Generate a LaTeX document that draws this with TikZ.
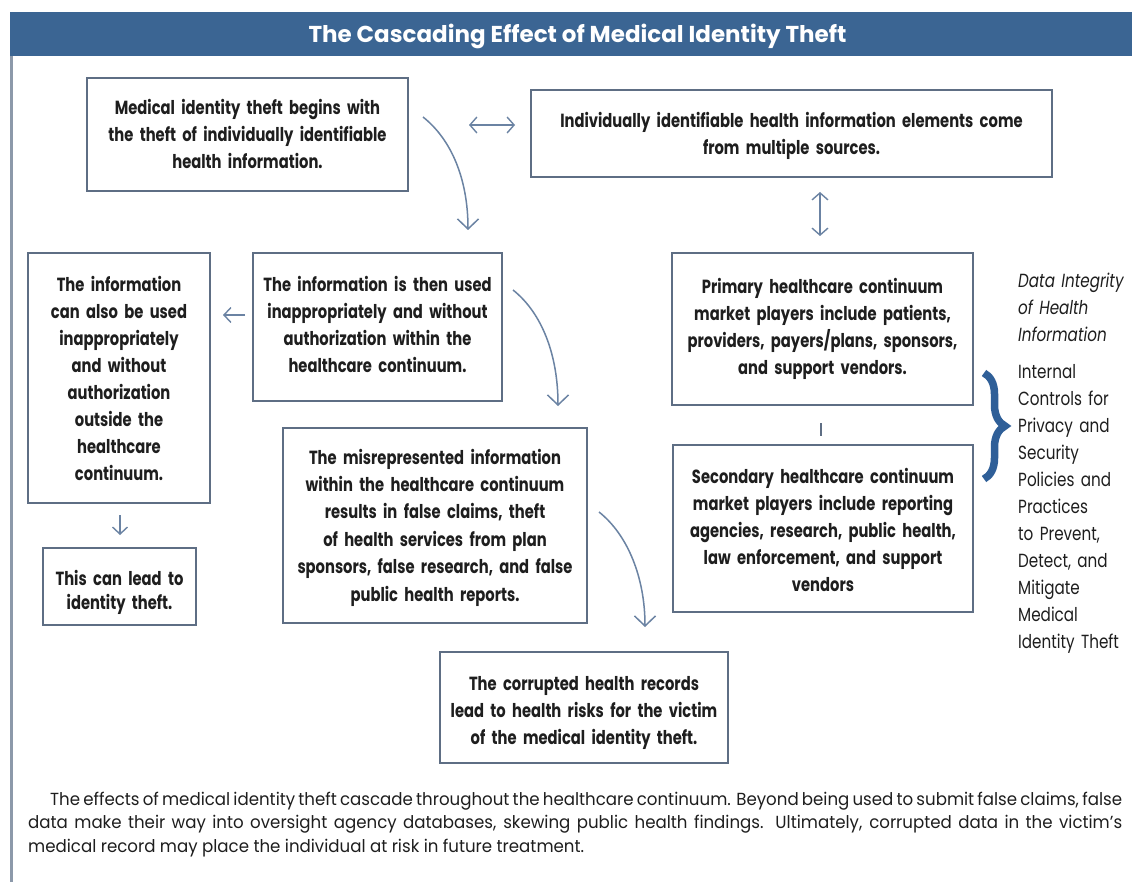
\documentclass[tikz,border=0pt]{standalone}
\usepackage{fontspec}
\setmainfont{Poppins}
\newfontfamily\boxfont{Poppins}[FakeStretch=0.775]
\newfontfamily\sidefont{Poppins}[FakeStretch=0.80]
\newfontfamily\capfont{Poppins}[FakeStretch=0.95]
\usetikzlibrary{arrows.meta,decorations.pathreplacing}
\definecolor{barblue}{HTML}{3B6593}
\definecolor{boxline}{HTML}{5E6E84}
\definecolor{arrowc}{HTML}{6B83A3}
\definecolor{framec}{HTML}{8C99AA}
\definecolor{bracec}{HTML}{2F5F98}
\definecolor{inkc}{HTML}{1E1E1E}
% struts that fix the first-line height and the last-line depth of box texts
\newcommand\boxtop[1]{\rule{0pt}{#1pt}}
\newcommand\boxbot{\rule[-6pt]{0pt}{6pt}}
\begin{document}
\begin{tikzpicture}[x=1pt,y=-1pt,
  box/.style={draw=boxline, line width=2.4pt, fill=white, align=center,
    inner xsep=5pt, inner ysep=0pt, text=inkc,
    font=\boxfont\bfseries\fontsize{19}{27}\selectfont},
  flow/.style={draw=arrowc, line width=1.5pt,
    -{Straight Barb[length=10pt,width=21pt,line width=1.5pt]}},
  small/.style={draw=arrowc, line width=1.4pt,
    -{Straight Barb[length=7pt,width=15pt,line width=1.4pt]}},
  both/.style={draw=arrowc, line width=1.4pt,
    {Straight Barb[length=7pt,width=16pt,line width=1.4pt]}-{Straight Barb[length=7pt,width=16pt,line width=1.4pt]}},
  side/.style={anchor=base west, align=left, inner sep=0pt, text=inkc,
    text width=120pt, font=\sidefont\fontsize{19}{27}\selectfont}]

\useasboundingbox (0,0) rectangle (1132,882);
\fill[white] (0,0) rectangle (1132,882);

% title bar and left frame rule
\fill[barblue] (10,12) rectangle (1132,56);
\draw[framec, line width=2.5pt] (11.5,56) -- (11.5,882);
\node[anchor=base, inner sep=0pt, text=white, font=\bfseries\fontsize{23}{26}\selectfont] (title) at (577.5,43) {The Cascading Effect of Medical Identity Theft};

% boxes
\node[box, text width=311pt, minimum height=113pt] (A) at (247.5,134.5)
  {\boxtop{21}Medical identity theft begins with\\the theft of individually identifiable\\health information.\boxbot};
\node[box, text width=511pt, minimum height=87pt] (B) at (791.5,133.5)
  {\boxtop{22}Individually identifiable health information elements come\\from multiple sources.\boxbot};
\node[box, text width=172pt, minimum height=250pt] (C) at (119,378)
  {\boxtop{23}The information\\can also be used\\inappropriately\\and without\\authorization\\outside the\\healthcare\\continuum.\boxbot};
\node[box, text width=239pt, minimum height=148pt] (D) at (377.5,327)
  {\boxtop{17}The information is then used\\inappropriately and without\\authorization within the\\healthcare continuum.\boxbot};
\node[box, text width=294pt, minimum height=195pt,
  font=\boxfont\bfseries\fontsize{19}{27.4}\selectfont] (E) at (435,525.5)
  {\boxtop{20}The misrepresented information\\within the healthcare continuum\\results in false claims, theft\\of health services from plan\\sponsors, false research, and false\\public health reports.\boxbot};
\node[box, text width=143pt, minimum height=77pt,
  font=\boxfont\bfseries\fontsize{19}{24}\selectfont] (F) at (119.5,586.5)
  {\boxtop{27}This can lead to\\identity theft.\boxbot};
\node[box, text width=278pt, minimum height=111pt] (G) at (584,707.5)
  {\boxtop{25}The corrupted health records\\lead to health risks for the victim\\of the medical identity theft.\boxbot};
\node[box, text width=291pt, minimum height=152pt] (H) at (822.5,329)
  {\boxtop{15}Primary healthcare continuum\\market players include patients,\\providers, payers/plans, sponsors,\\and support vendors.\boxbot};
\node[box, text width=290pt, minimum height=167pt] (I) at (823,528.5)
  {\boxtop{23}Secondary healthcare continuum\\market players include reporting\\agencies, research, public health,\\law enforcement, and support\\vendors\boxbot};

% connector end points
\coordinate (c1a) at (423,117);  \coordinate (c1b) at (468,230);
\coordinate (c2a) at (513,290);  \coordinate (c2b) at (558,406);
\coordinate (c3a) at (599,512);  \coordinate (c3b) at (645,627);
\coordinate (hA) at (469,125);   \coordinate (hB) at (515,125);
\coordinate (vB) at (820,192);   \coordinate (vH) at (820,236);
\coordinate (lD) at (245,315);   \coordinate (lC) at (223,315);
\coordinate (dC) at (120,515);   \coordinate (dF) at (120,535);
\coordinate (tH) at (821,423);   \coordinate (tI) at (821,436);

% connectors
\draw[flow] (c1a) .. controls (452,140) and (468,180) .. (c1b);
\draw[flow] (c2a) .. controls (542,313) and (558,355) .. (c2b);
\draw[flow] (c3a) .. controls (628,535) and (645,578) .. (c3b);
\draw[both] (hA) -- (hB);
\draw[both] (vB) -- (vH);
\draw[small] (lD) -- (lC);
\draw[small] (dC) -- (dF);
\draw[boxline, line width=1.8pt] (tH) -- (tI);

% brace and side notes
\draw[bracec, line width=7.5pt, decorate, decoration={brace, amplitude=21pt}]
  (984,373) -- (984,479);
\node[side, font=\sidefont\itshape\fontsize{19}{27}\selectfont] (dih) at (1018,288)
  {Data Integrity\\of Health\\Information};
\node[side] (ctrl) at (1018,378)
  {Internal\\Controls for\\Privacy and\\Security\\Policies and\\Practices\\to Prevent,\\Detect, and\\Mitigate\\Medical\\Identity Theft};

% caption
\node[anchor=base west, inner sep=0pt, text width=1094pt, align=justify, text=inkc,
  font=\capfont\fontsize{17.5}{23.5}\selectfont] (cap) at (28,805)
  {\hspace*{22pt}The effects of medical identity theft cascade throughout the healthcare continuum. Beyond being used to submit false claims, false\linebreak
  data make their way into oversight agency databases, skewing public health findings. Ultimately, corrupted data in the victim’s\linebreak
  medical record may place the individual at risk in future treatment.};
\end{tikzpicture}
\end{document}
